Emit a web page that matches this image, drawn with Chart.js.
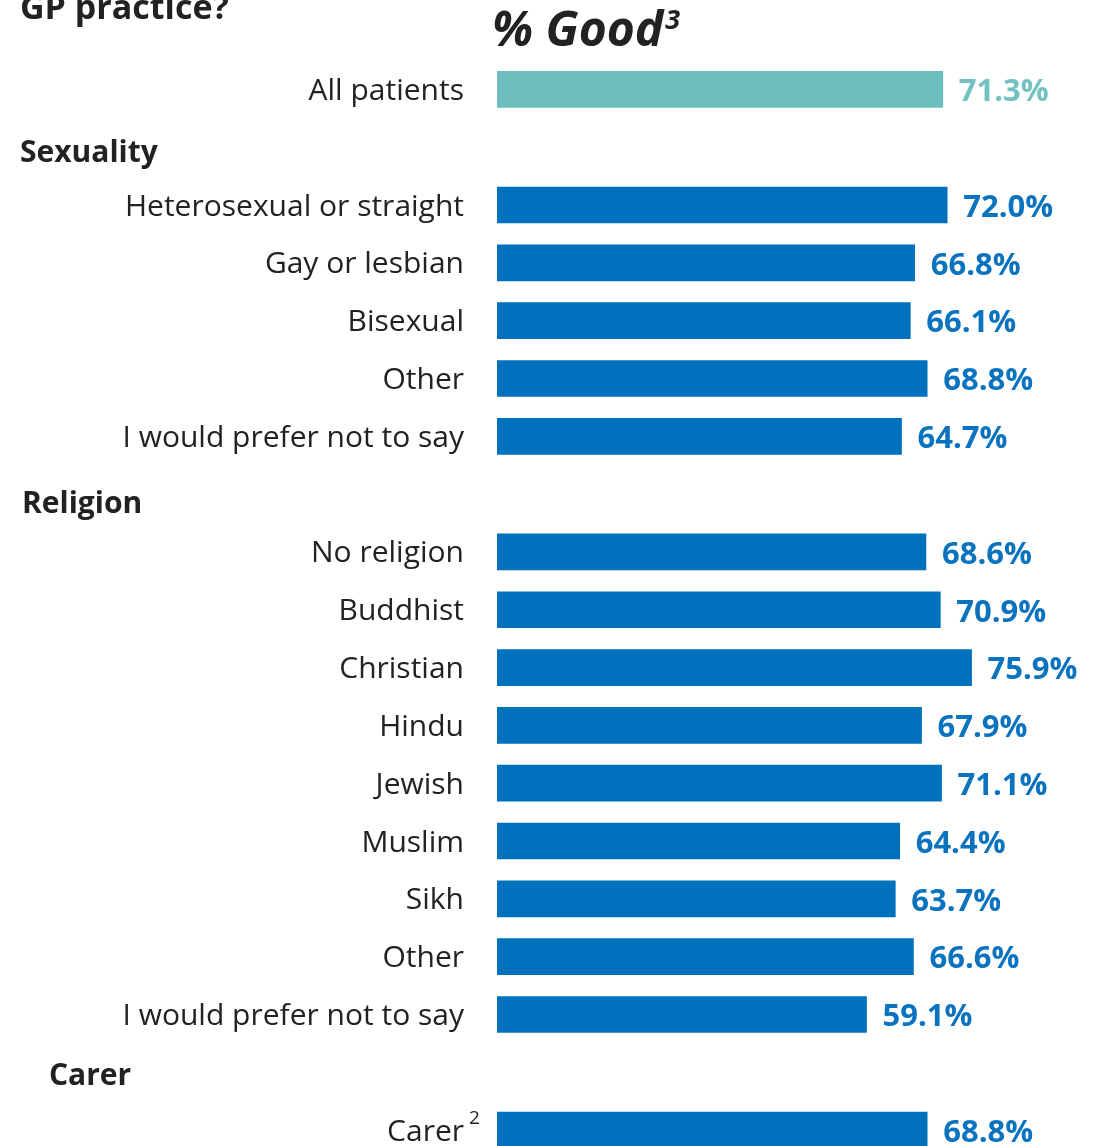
<!DOCTYPE html>
<html>
<head>
<meta charset="utf-8">
<script src="https://cdn.jsdelivr.net/npm/chart.js@4.4.0/dist/chart.umd.min.js"></script>
<style>
  html, body { margin: 0; padding: 0; background: #fff; overflow: hidden; }
  #wrap { position: relative; width: 1097px; height: 1210px; }
</style>
</head>
<body>
<div id="wrap"><canvas id="graphBarres" width="1097" height="1210"></canvas></div>
<script>
// results: % saying "Good"
var totalLabel = 'All patients';
var totalValue = 71.3;

var sexualityLabels = ['Heterosexual or straight', 'Gay or lesbian', 'Bisexual', 'Other', 'I would prefer not to say'];
var sexualityValues = [72.0, 66.8, 66.1, 68.8, 64.7];

var religionLabels = ['No religion', 'Buddhist', 'Christian', 'Hindu', 'Jewish', 'Muslim', 'Sikh', 'Other', 'I would prefer not to say'];
var religionValues = [68.6, 70.9, 75.9, 67.9, 71.1, 64.4, 63.7, 66.6, 59.1];

var carerLabels = ['Carer'];
var carerValues = [68.8];

var groupTitles = ['Sexuality', 'Religion', 'Carer'];

var couleurTotal = '#6dbfbe';
var couleurBleu = '#0071bc';

// one row per bar, plus an empty row in front of each group for its heading
var labels = [totalLabel];
var data = [totalValue];
var headingRows = [];
[[sexualityLabels, sexualityValues], [religionLabels, religionValues], [carerLabels, carerValues]].forEach(function (g, i) {
    headingRows.push({ row: labels.length, text: groupTitles[i] });
    labels.push('');
    data.push(null);
    g[0].forEach(function (l, j) { labels.push(l); data.push(g[1][j]); });
});
var couleurs = data.map(function (v, i) { return i === 0 ? couleurTotal : couleurBleu; });

var headingStyle = { x: [20, 22, 49], dy: [6, 10, 4] };

var textes = {
    id: 'textes',
    afterDatasetsDraw: function (chart) {
        var ctx = chart.ctx;
        var meta = chart.getDatasetMeta(0);
        var y = chart.scales.y;
        ctx.save();
        ctx.textBaseline = 'middle';

        // value at the end of each bar
        ctx.font = 'bold 31px "Open Sans"';
        ctx.textAlign = 'left';
        meta.data.forEach(function (bar, i) {
            if (data[i] === null) return;
            ctx.fillStyle = i === 0 ? '#72c2c1' : '#0a73bf';
            ctx.fillText(data[i].toFixed(1) + '%', bar.x + 16, bar.y + 3);
        });

        // group headings
        ctx.fillStyle = '#222';
        ctx.font = 'bold 30px "Open Sans"';
        headingRows.forEach(function (h, i) {
            ctx.fillText(h.text, headingStyle.x[i], y.getPixelForValue(h.row) + headingStyle.dy[i]);
        });

        // footnote mark on Carer
        var carerRow = labels.length - 1;
        ctx.font = '19px "Open Sans"';
        ctx.fillText('2', 469, y.getPixelForValue(carerRow) - 11);

        // question (cut at the top) and column title
        ctx.textBaseline = 'alphabetic';
        ctx.font = 'bold 34px "Open Sans"';
        ctx.fillText('GP practice?', 20, 19);
        ctx.font = 'italic bold 48px "Open Sans"';
        ctx.fillText('% Good', 492, 46);
        var w = ctx.measureText('% Good').width;
        ctx.font = 'italic bold 27px "Open Sans"';
        ctx.fillText('3', 492 + w + 2, 29);
        ctx.restore();
    }
};

new Chart(document.getElementById('graphBarres').getContext('2d'), {
    type: 'bar',
    data: {
        labels: labels,
        datasets: [{
            data: data,
            backgroundColor: couleurs,
            barThickness: 36
        }]
    },
    plugins: [textes],
    options: {
        indexAxis: 'y',
        responsive: false,
        animation: false,
        layout: { padding: { top: 60.5, bottom: 11, right: 6, left: 0 } },
        plugins: { legend: { display: false }, tooltip: { enabled: false } },
        scales: {
            x: { display: false, min: 0, max: 95 },
            y: {
                afterFit: function (scale) { scale.width = 497; },
                grid: { display: false, drawTicks: false },
                border: { display: false },
                ticks: {
                    padding: 33,
                    labelOffset: 2,
                    color: '#222',
                    font: { family: 'Open Sans', size: 30 }
                }
            }
        }
    }
});
</script>
</body>
</html>
